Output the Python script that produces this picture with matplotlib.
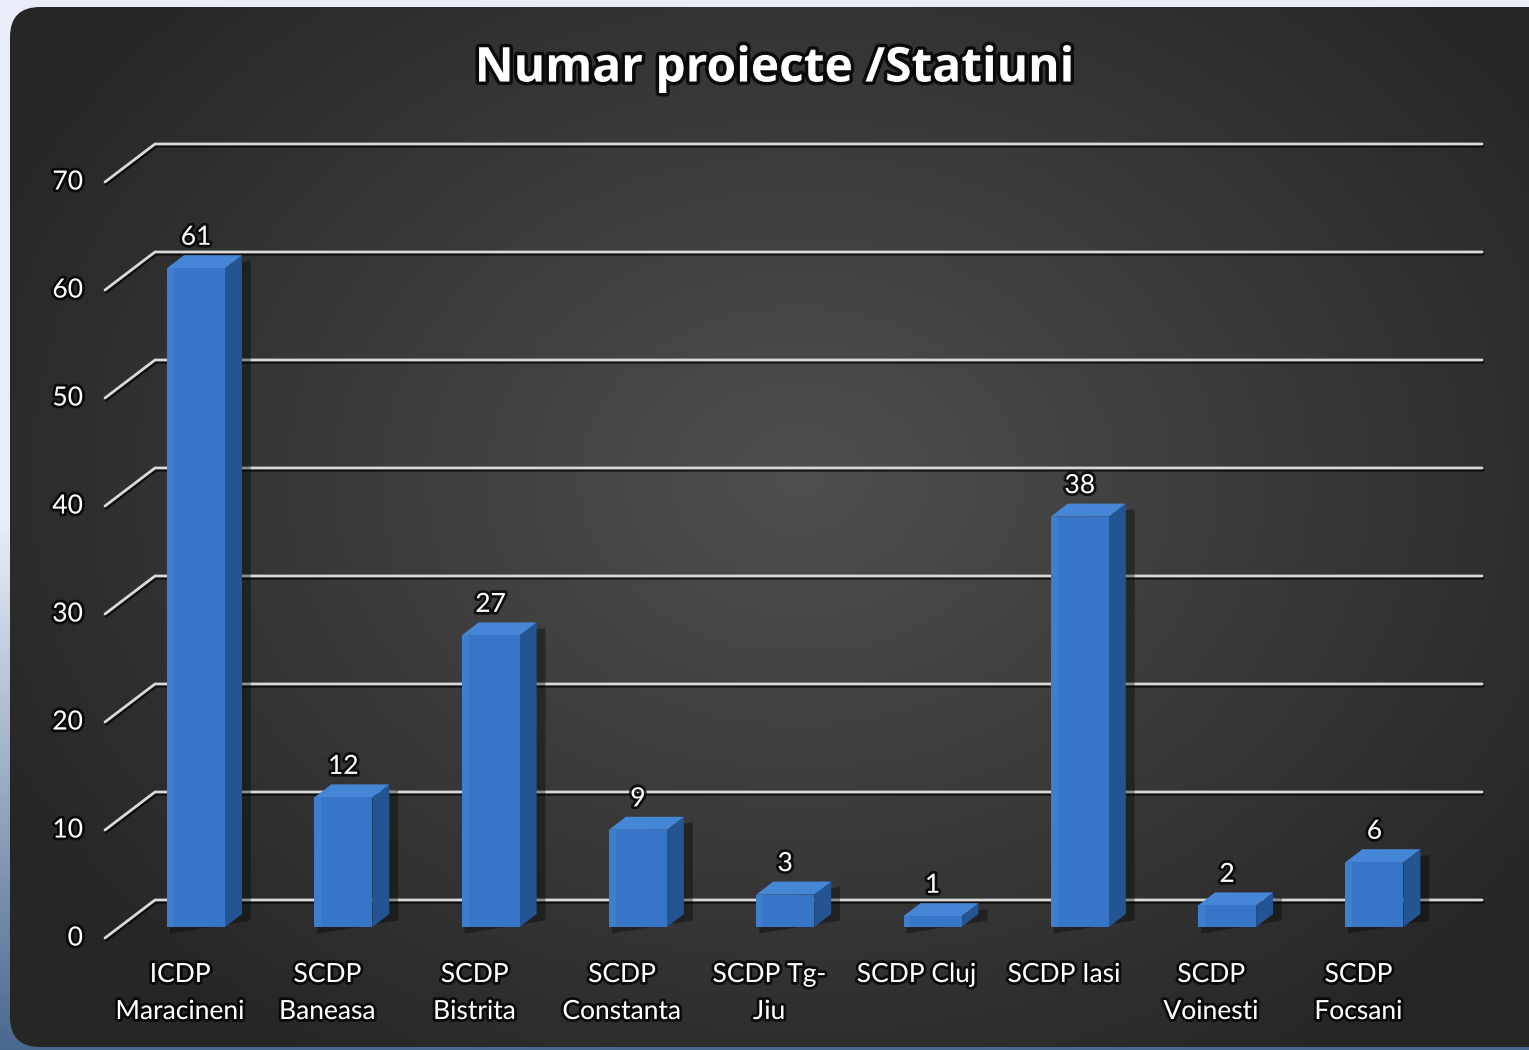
import numpy as np
import matplotlib
matplotlib.use("Agg")
import matplotlib.pyplot as plt
from matplotlib.patches import Polygon, FancyBboxPatch
import matplotlib.patheffects as pe

# ---------------- data ----------------
categories = ["ICDP\nMaracineni", "SCDP\nBaneasa", "SCDP\nBistrita", "SCDP\nConstanta",
              "SCDP Tg-\nJiu", "SCDP Cluj", "SCDP Iasi", "SCDP\nVoinesti", "SCDP\nFocsani"]
values = [61, 12, 27, 9, 3, 1, 38, 2, 6]
yticks = [0, 10, 20, 30, 40, 50, 60, 70]
title = "Numar proiecte /Statiuni"

# ---------------- layout ----------------
W, H, DPI = 1529, 1050, 100
X0PX, DXPX = 196.0, 147.3      # pixel of category 0, pixels per category
Y0PX, DYPX = 927.0, 10.8       # pixel of value 0 (bar front), pixels per unit

fig = plt.figure(figsize=(W / DPI, H / DPI), dpi=DPI)

# background decoration axes (pixel space)
bg = fig.add_axes([0, 0, 1, 1])
bg.set_xlim(0, W); bg.set_ylim(H, 0); bg.axis("off")
yy = np.linspace(0, 1, 256)[:, None]
t = np.clip((yy - 0.5) / 0.5, 0, 1)
top_c = np.array([0.91, 0.93, 0.97]); bot_c = np.array([0.29, 0.41, 0.56])
outer = top_c * (1 - t[..., None]) + bot_c * t[..., None]
outer = np.repeat(outer, 2, axis=1)
bg.imshow(outer, extent=(0, W, H, 0), aspect="auto", zorder=0)
px, py = np.meshgrid(np.linspace(0, W, 400), np.linspace(0, H, 300))
r = np.sqrt(((px - 800) / 900) ** 2 + ((py - 480) / 700) ** 2)
r = np.clip(r, 0, 1)
c_in = np.array([0.31, 0.31, 0.31]); c_out = np.array([0.15, 0.15, 0.15])
panel_img = c_in * (1 - r[..., None]) + c_out * r[..., None]
im = bg.imshow(panel_img, extent=(0, W, H, 0), aspect="auto", zorder=1)
panel = FancyBboxPatch((10, 7), W + 40, 1040, boxstyle="round,pad=0,rounding_size=30",
                       facecolor="none", edgecolor="none", transform=bg.transData)
bg.add_patch(panel)
im.set_clip_path(panel)

# ---------------- chart axes ----------------
ax = fig.add_axes([0, 0, 1, 1])
ax.patch.set_alpha(0)
ax.set_xlim(-X0PX / DXPX, (W - X0PX) / DXPX)
ax.set_ylim((Y0PX - H) / DYPX, Y0PX / DYPX)
ax.axis("off")

bar_w = 58 / DXPX
dep_x, dep_y = 17 / DXPX, 13 / DYPX
wall_x0, wall_x1 = (155 - X0PX) / DXPX, (1482 - X0PX) / DXPX
wall_dy = 27 / DYPX
obl_x0, obl_dy = (105 - X0PX) / DXPX, -11 / DYPX

grid_c = "#d9d9d9"
shadow = [pe.SimpleLineShadow(offset=(0.8, -1.6), shadow_color="black", alpha=0.7), pe.Normal()]
txt_fx = [pe.withStroke(linewidth=4, foreground=(0, 0, 0, 0.75))]

for v in yticks:
    ax.plot([obl_x0, wall_x0, wall_x1], [v + obl_dy, v + wall_dy, v + wall_dy],
            color=grid_c, lw=2.0, solid_capstyle="round", zorder=2, path_effects=shadow)
    ax.text(obl_x0 - 0.15, v + obl_dy, str(v), ha="right", va="center",
            color="white", fontsize=19, family="Lato", path_effects=txt_fx, zorder=5)

x = np.arange(len(values))
front_c, side_c, top_c2, hi_c = "#3875c6", "#245492", "#4586d6", "#4d8fe0"
for i, v in zip(x, values):
    l, rr = i - bar_w / 2, i + bar_w / 2
    ax.add_patch(Polygon([(l + 0.02, -0.6), (rr + dep_x + 0.06, dep_y - 0.6),
                          (rr + dep_x + 0.06, v + dep_y - 0.5), (l + 0.02, v - 0.5)],
                         closed=True, facecolor="black", alpha=0.35, edgecolor="none", zorder=3))
    ax.add_patch(Polygon([(rr, 0), (rr + dep_x, dep_y), (rr + dep_x, v + dep_y), (rr, v)],
                         closed=True, facecolor=side_c, edgecolor="none", zorder=4))
    ax.add_patch(Polygon([(l, v), (rr, v), (rr + dep_x, v + dep_y), (l + dep_x, v + dep_y)],
                         closed=True, facecolor=top_c2, edgecolor="none", zorder=4))
    ax.text(i, v + dep_y + 18 / DYPX, str(v), ha="center", va="center", color="white",
            fontsize=19, family="Lato", path_effects=txt_fx, zorder=6)

ax.bar(x, values, width=bar_w, color=front_c, edgecolor="none", zorder=4)
ax.bar(x - bar_w / 2 + bar_w * 0.06, values, width=bar_w * 0.12, color=hi_c,
       edgecolor="none", alpha=0.35, zorder=4)

for i, lab in zip(x, categories):
    ax.text(i - 16 / DXPX, -35 / DYPX, lab, ha="center", va="top", color="white",
            fontsize=19, family="Lato", linespacing=1.6, path_effects=txt_fx, zorder=6)

fig.text(774 / W, 1 - 69 / H, title, ha="center", va="center", color="white",
         fontsize=34.5, family="Open Sans", fontweight="bold",
         path_effects=[pe.withStroke(linewidth=5, foreground=(0, 0, 0, 0.8))])

fig.savefig("out.png", dpi=DPI)
